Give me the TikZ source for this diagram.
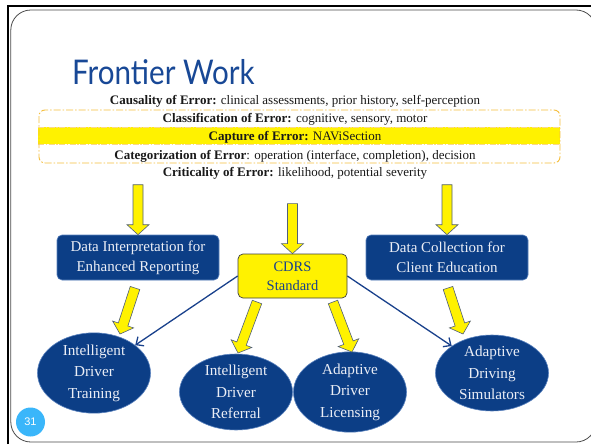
\documentclass[tikz,border=0pt]{standalone}
\usepackage{fontspec}
\setmainfont{Liberation Serif}
\newfontfamily\titlefont[FakeStretch=0.87]{Lato}
\newfontfamily\numfont{Liberation Sans}
\usetikzlibrary{shapes.geometric,calc,arrows.meta}

\definecolor{slideblue}{RGB}{12,62,134}
\definecolor{titleblue}{RGB}{24,72,150}
\definecolor{goldline}{RGB}{245,190,60}
\definecolor{arrowedge}{RGB}{80,95,120}
\definecolor{pagecircle}{RGB}{58,182,250}
\definecolor{boxedge}{RGB}{90,130,190}
\definecolor{linkblue}{RGB}{25,65,140}
\definecolor{paletext}{RGB}{235,238,246}

\tikzset{
  textline/.style={anchor=base, inner sep=0pt, text=black!90,
    font=\fontsize{13}{15}\selectfont},
  blockarrow/.style={fill=yellow, draw=arrowedge, line width=0.6pt, line join=miter},
  bluebox/.style={rectangle, rounded corners=5pt, fill=slideblue, draw=boxedge,
    line width=0.6pt, text=paletext, minimum width=162pt, minimum height=45pt,
    align=center, inner sep=0pt, font=\fontsize{15}{20}\selectfont},
  cdrsbox/.style={rectangle, rounded corners=5pt, fill=yellow, draw=black!75,
    line width=0.7pt, text=linkblue, minimum width=109pt, minimum height=44pt,
    align=center, inner sep=0pt, font=\fontsize{14.5}{19}\selectfont},
  goal/.style={ellipse, fill=slideblue, draw=boxedge, line width=0.6pt,
    text=paletext, minimum width=113pt, minimum height=76pt, inner sep=0pt,
    align=center, font=\fontsize{15.2}{21.5}\selectfont},
  linkarrow/.style={draw=linkblue, line width=1.3pt,
    -{Straight Barb[length=6pt,width=11pt,line width=1.3pt]}},
}

% yellow block arrow from #1 to #2 (tip at #2)
\newcommand\blockarr[2]{%
  \coordinate (ba-h) at ($(#2)!10pt!(#1)$);
  \draw[blockarrow]
    ($(#1)!5pt!90:(#2)$) -- ($(ba-h)!5pt!-90:(#1)$) -- ($(ba-h)!11pt!-90:(#1)$)
    -- (#2) -- ($(ba-h)!11pt!90:(#1)$) -- ($(ba-h)!5pt!90:(#1)$)
    -- ($(#1)!5pt!-90:(#2)$) -- cycle;}

\begin{document}
\begin{tikzpicture}[x=1pt,y=-1pt]
\useasboundingbox (0,0) rectangle (591,444);
\fill[white] (0,0) rectangle (591,444);

% slide frame
\draw[line width=2pt] (7.6,444) -- (7.6,6.5) -- (591,6.5);
\draw[black!70, line width=0.8pt, rounded corners=20pt] (10.8,10) rectangle (596,442);

% title
\node[anchor=base west, inner sep=0pt, text=titleblue,
  font=\titlefont\fontsize{34}{38}\selectfont] (title) at (72,84) {Frontier Work};

% highlighted band and dash-dot frame
\fill[yellow] (38,127) rectangle (560,144);
\draw[goldline!60, line width=0.5pt, dash pattern=on 6pt off 1.5pt on 1.5pt off 1.5pt]
  (38,127) -- (560,127) (38,144) -- (560,144);
\draw[goldline, line width=0.9pt, dash pattern=on 7pt off 2pt on 1.5pt off 2pt,
  rounded corners=6pt] (39,110) rectangle (560,163);

% the five error stages
\node[textline] (cause) at (295,104)
  {\textbf{Causality of Error:} clinical assessments, prior history, self-perception};
\node[textline] (class) at (295,122.5)
  {\textbf{Classification of Error:} cognitive, sensory, motor};
\node[textline] (capture) at (295,140.5)
  {\textbf{Capture of Error:} NAViSection};
\node[textline] (categ) at (295,159)
  {\textbf{Categorization of Error}: operation (interface, completion), decision};
\node[textline] (crit) at (295,176)
  {\textbf{Criticality of Error:} likelihood, potential severity};

% boxes
\node[bluebox] (interp) at (138,257.5) {Data Interpretation for\\Enhanced Reporting};
\node[bluebox] (collect) at (447,257.5) {Data Collection for\\Client Education};
\node[cdrsbox] (cdrs) at (292.5,276) {CDRS\\Standard};

% outcomes
\node[goal] (train) at (94,373) {Intelligent\\Driver\\Training};
\node[goal] (refer) at (236,392) {Intelligent\\Driver\\Referral};
\node[goal] (licen) at (350,392) {Adaptive\\Driver\\Licensing};
\node[goal] (simul) at (492,373) {Adaptive\\Driving\\Simulators};

% yellow arrows
\coordinate (a1) at ($(interp.north)+(0,-50)$);
\coordinate (a2) at ($(cdrs.north)+(0,-50)$);
\coordinate (a3) at ($(collect.north)+(0,-50)$);
\blockarr{a1}{interp.north}
\blockarr{a2}{cdrs.north}
\blockarr{a3}{collect.north}

\coordinate (b1s) at (135,288);   \coordinate (b1e) at (120,334);
\coordinate (b2s) at (257,302);   \coordinate (b2e) at (238,353);
\coordinate (b3s) at (333,302);   \coordinate (b3e) at (352,352);
\coordinate (b4s) at (448,288);   \coordinate (b4e) at (463,334);
\blockarr{b1s}{b1e}
\blockarr{b2s}{b2e}
\blockarr{b3s}{b3e}
\blockarr{b4s}{b4e}

% blue links from the standard
\draw[linkarrow] (cdrs.west) -- (train);
\draw[linkarrow] (cdrs.east) -- (simul);

% page number
\node[circle, fill=pagecircle, minimum size=29pt, inner sep=0pt, text=white,
  font=\numfont\fontsize{11}{12}\selectfont] (page) at (30.5,422) {31};
\end{tikzpicture}
\end{document}
